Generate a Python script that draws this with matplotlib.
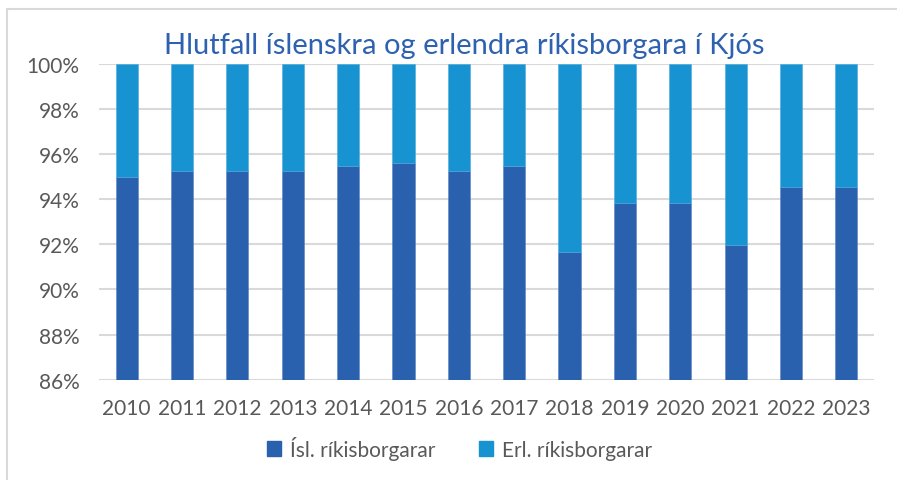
import matplotlib.pyplot as plt
from matplotlib.patches import Rectangle, Patch
from matplotlib.ticker import FuncFormatter

plt.rcParams['font.family'] = ['Lato', 'DejaVu Sans']

years = ["2010", "2011", "2012", "2013", "2014", "2015", "2016",
         "2017", "2018", "2019", "2020", "2021", "2022", "2023"]
# hlutfall i prosentum, lesid af myndinni
isl = [95.0, 95.23, 95.23, 95.23, 95.45, 95.62, 95.23,
       95.45, 91.64, 93.84, 93.84, 91.98, 94.52, 94.52]
erl = [5.0, 4.77, 4.77, 4.77, 4.55, 4.38, 4.77,
       4.55, 8.36, 6.16, 6.16, 8.02, 5.48, 5.48]

dark = "#2961ae"
light = "#1693d0"
grey = "#595959"
grid = "#d9d9d9"

fig = plt.figure(figsize=(8.97, 4.81), dpi=100)
ax = fig.add_axes([0.1104, 0.2085, 0.864, 0.657])

x = range(len(years))
ax.bar(x, isl, width=0.4, color=dark, edgecolor="#5a84c4", linewidth=0.4, zorder=3)
ax.bar(x, erl, width=0.4, bottom=isl, color=light, edgecolor="#4aa9dc", linewidth=0.4, zorder=3)

ax.set_ylim(86, 100)
ax.set_xlim(-0.5, len(years) - 0.5)
ax.set_yticks(range(86, 101, 2))
ax.yaxis.set_major_formatter(FuncFormatter(lambda v, p: f"{v:.0f}%"))
ax.set_xticks(list(x))
ax.set_xticklabels(years)
ax.grid(axis="y", color=grid, linewidth=1.5, zorder=0)
for s in ax.spines.values():
    s.set_visible(False)
ax.tick_params(axis="both", length=0, colors=grey, labelsize=15)
ax.tick_params(axis="y", pad=14)
ax.tick_params(axis="x", pad=13)

fig.text(0.518, 0.905, "Hlutfall íslenskra og erlendra ríkisborgara í Kjós",
         ha="center", va="center", fontsize=21, color="#2e62b0")

handles = [Patch(color=dark, label="Ísl. ríkisborgarar"),
           Patch(color=light, label="Erl. ríkisborgarar")]
fig.legend(handles=handles, loc="center", bbox_to_anchor=(0.512, 0.067), ncol=2,
           frameon=False, fontsize=15, labelcolor=grey, handlelength=0.7,
           handleheight=0.7, handletextpad=0.4, columnspacing=2.1)

fig.patches.append(Rectangle((7 / 897, -0.1), 1.2, 1.1 - 10 / 481, transform=fig.transFigure,
                             fill=False, edgecolor=grid, linewidth=1.5))

fig.savefig("out.png", dpi=100)
